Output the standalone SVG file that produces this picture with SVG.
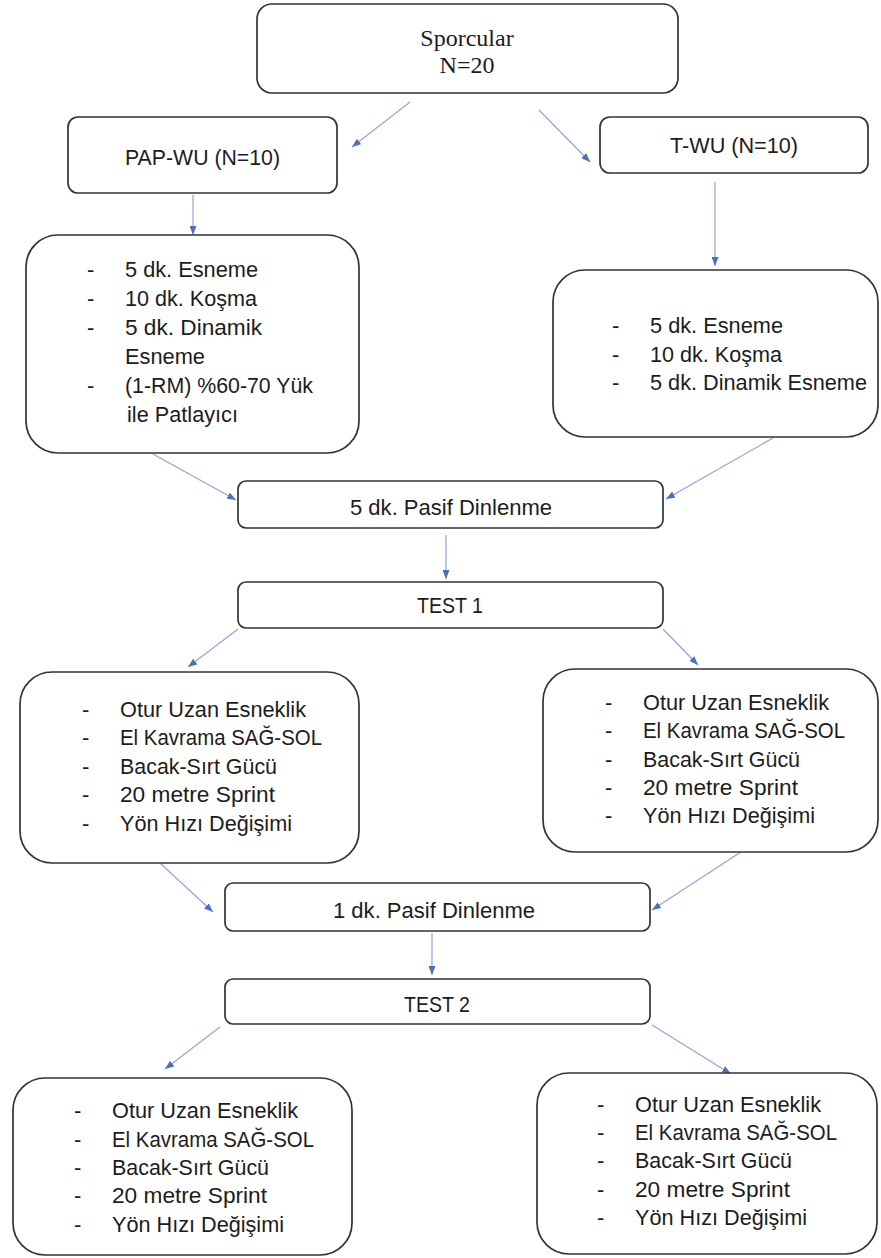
<svg xmlns="http://www.w3.org/2000/svg" width="881" height="1258" viewBox="0 0 881 1258">
<style>
.box{fill:#fff;stroke:#333;stroke-width:1.7}
.t{font-family:"Liberation Sans",Arial,sans-serif;font-size:22px;fill:#1c1c1c}
.s{font-family:"Liberation Serif","Times New Roman",serif;font-size:24px;fill:#1c1c1c;text-anchor:middle}
.cn{stroke:#8fa6d6;stroke-width:1.2;fill:none;marker-end:url(#ah)}
</style>
<defs>
<marker id="ah" markerUnits="userSpaceOnUse" markerWidth="9" markerHeight="7" refX="9" refY="3.5" orient="auto">
<path d="M0,0 L9,3.5 L0,7 z" fill="#4a6fbf"/>
</marker>
</defs>
<rect width="881" height="1258" fill="#fff"/>

<g id="connectors">
<line class="cn" x1="410" y1="102" x2="352" y2="147"/>
<line class="cn" x1="539" y1="110" x2="590" y2="162"/>
<line class="cn" x1="193" y1="195" x2="193" y2="235"/>
<line class="cn" x1="715" y1="182" x2="715" y2="266"/>
<line class="cn" x1="153" y1="454" x2="236" y2="500"/>
<line class="cn" x1="773" y1="438" x2="666" y2="499"/>
<line class="cn" x1="446" y1="535" x2="446" y2="579"/>
<line class="cn" x1="238" y1="629" x2="188" y2="667"/>
<line class="cn" x1="663" y1="629" x2="698" y2="665"/>
<line class="cn" x1="148" y1="852" x2="213" y2="912"/>
<line class="cn" x1="747" y1="848" x2="652" y2="910"/>
<line class="cn" x1="432" y1="933" x2="432" y2="975"/>
<line class="cn" x1="220" y1="1027" x2="165" y2="1069"/>
<line class="cn" x1="652" y1="1025" x2="731" y2="1074"/>
</g>

<g id="sporcular">
<rect class="box" x="257" y="4" width="421" height="89" rx="15"/>
<text class="s" x="467" y="46">Sporcular</text>
<text class="s" x="467" y="73">N=20</text>
</g>

<g id="pap-wu">
<rect class="box" x="68" y="117" width="269" height="76" rx="10"/>
<text class="t" x="125" y="165" textLength="155" lengthAdjust="spacingAndGlyphs">PAP-WU (N=10)</text>
</g>

<g id="t-wu">
<rect class="box" x="600" y="117" width="268" height="56" rx="10"/>
<text class="t" x="670" y="153" textLength="128" lengthAdjust="spacingAndGlyphs">T-WU (N=10)</text>
</g>

<g id="pap-wu-protocol">
<rect class="box" x="26" y="235" width="333" height="218" rx="32"/>
<text class="t" x="87" y="277">-</text>
<text class="t" x="125" y="277" textLength="133" lengthAdjust="spacingAndGlyphs">5 dk. Esneme</text>
<text class="t" x="87" y="306">-</text>
<text class="t" x="125" y="306" textLength="132" lengthAdjust="spacingAndGlyphs">10 dk. Koşma</text>
<text class="t" x="87" y="335">-</text>
<text class="t" x="125" y="335" textLength="137" lengthAdjust="spacingAndGlyphs">5 dk. Dinamik</text>
<text class="t" x="125" y="364" textLength="80" lengthAdjust="spacingAndGlyphs">Esneme</text>
<text class="t" x="87" y="393">-</text>
<text class="t" x="125" y="393" textLength="188" lengthAdjust="spacingAndGlyphs">(1-RM) %60-70 Yük</text>
<text class="t" x="127" y="422" textLength="111" lengthAdjust="spacingAndGlyphs">ile Patlayıcı</text>
</g>

<g id="t-wu-protocol">
<rect class="box" x="553" y="270" width="325" height="167" rx="32"/>
<text class="t" x="612" y="333">-</text>
<text class="t" x="650" y="333" textLength="133" lengthAdjust="spacingAndGlyphs">5 dk. Esneme</text>
<text class="t" x="612" y="362">-</text>
<text class="t" x="650" y="362" textLength="132" lengthAdjust="spacingAndGlyphs">10 dk. Koşma</text>
<text class="t" x="612" y="390">-</text>
<text class="t" x="650" y="390" textLength="217" lengthAdjust="spacingAndGlyphs">5 dk. Dinamik Esneme</text>
</g>

<g id="rest-5">
<rect class="box" x="238" y="481" width="425" height="47" rx="8"/>
<text class="t" x="350" y="515" textLength="202" lengthAdjust="spacingAndGlyphs">5 dk. Pasif Dinlenme</text>
</g>

<g id="test-1">
<rect class="box" x="238" y="582" width="425" height="46" rx="8"/>
<text class="t" x="417" y="613" textLength="66" lengthAdjust="spacingAndGlyphs">TEST 1</text>
</g>

<g id="test-1-left">
<rect class="box" x="20" y="672" width="339" height="191" rx="32"/>
<text class="t" x="82" y="717">-</text>
<text class="t" x="120" y="717" textLength="186" lengthAdjust="spacingAndGlyphs">Otur Uzan Esneklik</text>
<text class="t" x="82" y="745">-</text>
<text class="t" x="120" y="745" textLength="202" lengthAdjust="spacingAndGlyphs">El Kavrama SAĞ-SOL</text>
<text class="t" x="82" y="774">-</text>
<text class="t" x="120" y="774" textLength="157" lengthAdjust="spacingAndGlyphs">Bacak-Sırt Gücü</text>
<text class="t" x="82" y="802">-</text>
<text class="t" x="120" y="802" textLength="155" lengthAdjust="spacingAndGlyphs">20 metre Sprint</text>
<text class="t" x="82" y="831">-</text>
<text class="t" x="120" y="831" textLength="172" lengthAdjust="spacingAndGlyphs">Yön Hızı Değişimi</text>
</g>

<g id="test-1-right">
<rect class="box" x="543" y="669" width="335" height="183" rx="32"/>
<text class="t" x="605" y="710">-</text>
<text class="t" x="643" y="710" textLength="186" lengthAdjust="spacingAndGlyphs">Otur Uzan Esneklik</text>
<text class="t" x="605" y="738">-</text>
<text class="t" x="643" y="738" textLength="202" lengthAdjust="spacingAndGlyphs">El Kavrama SAĞ-SOL</text>
<text class="t" x="605" y="767">-</text>
<text class="t" x="643" y="767" textLength="157" lengthAdjust="spacingAndGlyphs">Bacak-Sırt Gücü</text>
<text class="t" x="605" y="795">-</text>
<text class="t" x="643" y="795" textLength="155" lengthAdjust="spacingAndGlyphs">20 metre Sprint</text>
<text class="t" x="605" y="823">-</text>
<text class="t" x="643" y="823" textLength="172" lengthAdjust="spacingAndGlyphs">Yön Hızı Değişimi</text>
</g>

<g id="rest-1">
<rect class="box" x="225" y="883" width="425" height="48" rx="8"/>
<text class="t" x="333" y="918" textLength="202" lengthAdjust="spacingAndGlyphs">1 dk. Pasif Dinlenme</text>
</g>

<g id="test-2">
<rect class="box" x="225" y="979" width="425" height="45" rx="8"/>
<text class="t" x="404" y="1012" textLength="66" lengthAdjust="spacingAndGlyphs">TEST 2</text>
</g>

<g id="test-2-left">
<rect class="box" x="13" y="1078" width="339" height="177" rx="32"/>
<text class="t" x="74" y="1118">-</text>
<text class="t" x="112" y="1118" textLength="186" lengthAdjust="spacingAndGlyphs">Otur Uzan Esneklik</text>
<text class="t" x="74" y="1147">-</text>
<text class="t" x="112" y="1147" textLength="202" lengthAdjust="spacingAndGlyphs">El Kavrama SAĞ-SOL</text>
<text class="t" x="74" y="1175">-</text>
<text class="t" x="112" y="1175" textLength="157" lengthAdjust="spacingAndGlyphs">Bacak-Sırt Gücü</text>
<text class="t" x="74" y="1203">-</text>
<text class="t" x="112" y="1203" textLength="155" lengthAdjust="spacingAndGlyphs">20 metre Sprint</text>
<text class="t" x="74" y="1232">-</text>
<text class="t" x="112" y="1232" textLength="172" lengthAdjust="spacingAndGlyphs">Yön Hızı Değişimi</text>
</g>

<g id="test-2-right">
<rect class="box" x="537" y="1073" width="340" height="181" rx="32"/>
<text class="t" x="597" y="1112">-</text>
<text class="t" x="635" y="1112" textLength="186" lengthAdjust="spacingAndGlyphs">Otur Uzan Esneklik</text>
<text class="t" x="597" y="1140">-</text>
<text class="t" x="635" y="1140" textLength="202" lengthAdjust="spacingAndGlyphs">El Kavrama SAĞ-SOL</text>
<text class="t" x="597" y="1168">-</text>
<text class="t" x="635" y="1168" textLength="157" lengthAdjust="spacingAndGlyphs">Bacak-Sırt Gücü</text>
<text class="t" x="597" y="1197">-</text>
<text class="t" x="635" y="1197" textLength="155" lengthAdjust="spacingAndGlyphs">20 metre Sprint</text>
<text class="t" x="597" y="1225">-</text>
<text class="t" x="635" y="1225" textLength="172" lengthAdjust="spacingAndGlyphs">Yön Hızı Değişimi</text>
</g>
</svg>
